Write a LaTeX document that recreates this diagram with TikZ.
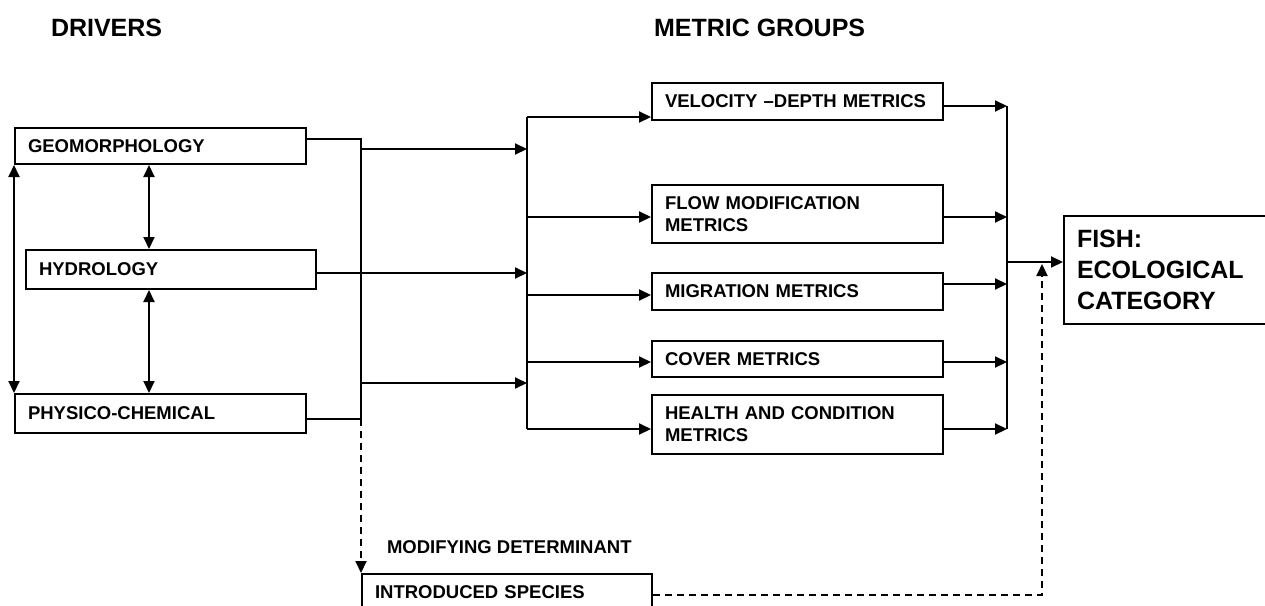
\documentclass[tikz,border=0pt]{standalone}
\usepackage{fontspec}
\setmainfont{Liberation Sans}
\usetikzlibrary{arrows.meta}

\begin{document}
\begin{tikzpicture}[x=1pt,y=-1pt,>={Triangle[length=12pt,width=11pt]},line width=2pt,
                font=\fontsize{18.5}{22}\selectfont\bfseries,
                box node/.style={draw,rectangle,anchor=north west,align=left,inner xsep=13pt,inner ysep=0pt,text width=265pt},
                head node/.style={anchor=base west,inner sep=0pt},
                big/.style={font=\fontsize{25}{31}\selectfont\bfseries},
                dash line/.style={dash pattern=on 7pt off 5pt}]
  \useasboundingbox (0,0) rectangle (1265,605);

  \node[head node,big] (drv) at (50,36) {DRIVERS};
  \node[head node,big] (mg) at (653,36) {METRIC GROUPS};

  \node[box node,minimum height=36pt] (geo) at (14,127) {GEOMORPHOLOGY};
  \node[box node,minimum height=39pt,text width=264pt] (hyd) at (25,249) {HYDROLOGY};
  \node[box node,minimum height=39pt] (phys) at (14,393) {PHYSICO-CHEMICAL};

  \node[box node,minimum height=37pt] (vel) at (651,82) {VELOCITY –DEPTH METRICS};
  \node[box node,minimum height=58pt] (flow) at (651,184) {FLOW MODIFICATION\\METRICS};
  \node[box node,minimum height=37pt] (mig) at (651,272) {MIGRATION METRICS};
  \node[box node,minimum height=36pt] (cov) at (651,340) {COVER METRICS};
  \node[box node,minimum height=59pt] (health) at (651,394) {HEALTH AND CONDITION\\METRICS};

  \node[box node,big,minimum height=108pt,text width=220pt] (fish) at (1063,215) {FISH:\\ECOLOGICAL\\CATEGORY};

  \node[head node] (mod) at (386,553) {MODIFYING DETERMINANT};
  \node[box node,minimum height=37pt,text width=264pt] (intro) at (361,573) {INTRODUCED SPECIES};

  \coordinate (mid) at (149,0);
  \coordinate (b1) at (361,0);
  \coordinate (b2) at (527,0);
  \coordinate (b3) at (1007,0);
  \coordinate (j1) at (361,149);
  \coordinate (j2) at (361,383);
  \coordinate (dsh) at (1042,264);

  % drivers
  \path[<->]
    (geo.south west) edge (phys.north west)
    (geo.south -| mid) edge (hyd.north -| mid)
    (hyd.south -| mid) edge (phys.north -| mid)
  ;
  \draw ([yshift=7pt]geo.east) -| ([yshift=-5.5pt]phys.east -| b1) -- ([yshift=-5.5pt]phys.east);
  \draw[->] ([yshift=-3.5pt]hyd.east) -- ([yshift=-3.5pt]hyd.east -| b2);
  \draw[->] (j1) -- (j1 -| b2);
  \draw[->] (j2) -- (j2 -| b2);

  % metric groups
  \draw ([yshift=-15.5pt]vel.west -| b2) -- ([yshift=-4.5pt]health.west -| b2);
  \foreach \n/\s in {vel/-15.5,flow/-3,mig/-3.5,cov/-3,health/-4.5}
    \draw[->] ([yshift=\s pt]\n.west -| b2) -- ([yshift=\s pt]\n.west);
  \foreach \n/\s in {vel/-4.5,flow/-3,mig/7.5,cov/-3,health/-4.5}
    \draw[->] ([yshift=\s pt]\n.east) -- ([yshift=\s pt]\n.east -| b3);
  \draw ([yshift=-4.5pt]vel.east -| b3) -- ([yshift=-4.5pt]health.east -| b3);
  \draw[->] ([yshift=8pt]fish.west -| b3) -- ([yshift=8pt]fish.west);

  % modifying determinant
  \draw[->,dash line] ([yshift=-5.5pt]phys.east -| b1) -- (intro.north west);
  \draw[->,dash line] ([yshift=-2.5pt]intro.east) -| (dsh);
\end{tikzpicture}
\end{document}
